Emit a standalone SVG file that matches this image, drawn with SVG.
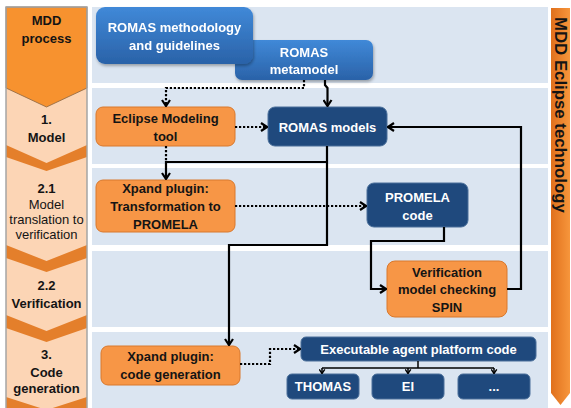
<svg xmlns="http://www.w3.org/2000/svg" width="571" height="408" viewBox="0 0 571 408">
<style>
.t{font-family:"Liberation Sans",Arial,sans-serif;font-size:13px;font-weight:bold;text-anchor:middle}
.w{fill:#ffffff}
.k{fill:#141414}
.r{font-weight:normal}
.panel{fill:#dbe5f1}
.or{fill:#f79646;stroke:#d9782c;stroke-width:1}
.db{fill:#1f497d;stroke:#4a6f9a;stroke-width:1}
.band{fill:#e47f2b}
.sol{fill:none;stroke:#000;stroke-width:2.2}
.dot{fill:none;stroke:#000;stroke-width:2.2;stroke-dasharray:2.2 1.8}
.thin{fill:none;stroke:#000;stroke-width:1.5}
</style>
<defs>
<linearGradient id="gb" x1="0" y1="0" x2="0" y2="1">
<stop offset="0" stop-color="#4089d8"/>
<stop offset="1" stop-color="#2a62a8"/>
</linearGradient>
<linearGradient id="go" x1="0" y1="0" x2="1" y2="0">
<stop offset="0" stop-color="#e0701c"/>
<stop offset="1" stop-color="#f7963c"/>
</linearGradient>
<filter id="sh" x="-10%" y="-10%" width="130%" height="140%">
<feDropShadow dx="1" dy="2" stdDeviation="1.5" flood-color="#000" flood-opacity="0.3"/>
</filter>
<marker id="ah" viewBox="0 0 10 10" refX="9" refY="5" markerWidth="10" markerHeight="10" markerUnits="userSpaceOnUse" orient="auto">
<path d="M3,1 L9,5 L3,9" fill="none" stroke="#000" stroke-width="2.2"/>
</marker>
<marker id="as" viewBox="0 0 10 10" refX="9" refY="5" markerWidth="7" markerHeight="7" markerUnits="userSpaceOnUse" orient="auto">
<path d="M3,1 L9,5 L3,9" fill="none" stroke="#000" stroke-width="2"/>
</marker>
</defs>

<rect width="571" height="408" fill="#ffffff"/>

<g id="panels">
<rect class="panel" x="92" y="7" width="456" height="76"/>
<rect class="panel" x="92" y="88" width="456" height="76"/>
<rect class="panel" x="92" y="168" width="456" height="77"/>
<rect class="panel" x="92" y="251" width="456" height="76"/>
<rect class="panel" x="92" y="332" width="456" height="76"/>
</g>

<g id="process-column">
<rect x="6" y="7" width="81" height="402" fill="#fcd5b5"/>
<polygon points="6,7 87,7 87,88 46.5,107 6,88" fill="#f7922f" stroke="#8a6440" stroke-width="0.8"/>
<polygon class="band" points="6,145 46.5,163 87,145 87,157 46.5,171 6,157"/>
<polygon class="band" points="6,245 46.5,261 87,245 87,258 46.5,272 6,258"/>
<polygon class="band" points="6,315 46.5,331 87,315 87,328 46.5,342 6,328"/>
<polygon class="band" points="6,397 46.5,410 87,397 87,410 6,410"/>
<rect x="6" y="7" width="81" height="405" fill="none" stroke="#a5a5a5" stroke-width="1.5"/>
<text class="t k" x="46.5" y="24.5">MDD</text>
<text class="t k" x="46.5" y="42.5">process</text>
<text class="t k" x="46.5" y="123.5">1.</text>
<text class="t k" x="46.5" y="141.5">Model</text>
<text class="t k" x="46.5" y="192.5">2.1</text>
<text class="t k r" x="46.5" y="208.5">Model</text>
<text class="t k r" x="46.5" y="223.5">translation to</text>
<text class="t k r" x="46.5" y="238.5">verification</text>
<text class="t k" x="46.5" y="289.5">2.2</text>
<text class="t k" x="46.5" y="307.5">Verification</text>
<text class="t k" x="46.5" y="358.5">3.</text>
<text class="t k" x="46.5" y="376.5">Code</text>
<text class="t k" x="46.5" y="392.5">generation</text>
</g>

<g id="tech-bar">
<polygon points="551,8 570,8 570,393 560.5,405 551,393" fill="url(#go)"/>
<text class="t k" style="font-size:16.8px;text-anchor:start" transform="translate(555,17) rotate(90)">MDD Eclipse technology</text>
</g>

<g id="romas-metamodel" filter="url(#sh)">
<rect x="235" y="40" width="138" height="40" rx="7" fill="url(#gb)"/>
<text class="t w" x="304" y="56.5">ROMAS</text>
<text class="t w" x="304" y="73.5">metamodel</text>
</g>

<g id="romas-methodology" filter="url(#sh)">
<rect x="96" y="7" width="157" height="57" rx="9" fill="url(#gb)"/>
<text class="t w" x="174.5" y="31.5">ROMAS methodology</text>
<text class="t w" x="174.5" y="49.5">and guidelines</text>
</g>

<g id="eclipse-tool">
<rect class="or" x="96" y="107" width="139" height="39" rx="7"/>
<text class="t k" x="165.5" y="122.5">Eclipse Modeling</text>
<text class="t k" x="165.5" y="141">tool</text>
</g>

<g id="romas-models">
<rect class="db" x="268" y="107" width="119" height="39" rx="7"/>
<text class="t w" x="327.5" y="131.5">ROMAS models</text>
</g>

<g id="xpand-promela">
<rect class="or" x="96" y="180" width="139" height="52" rx="7"/>
<text class="t k" x="165.5" y="192.5">Xpand plugin:</text>
<text class="t k" x="165.5" y="210.5">Transformation to</text>
<text class="t k" x="165.5" y="228.5">PROMELA</text>
</g>

<g id="promela-code">
<rect class="db" x="367" y="183" width="101" height="44" rx="7"/>
<text class="t w" x="417.5" y="201.5">PROMELA</text>
<text class="t w" x="417.5" y="219.5">code</text>
</g>

<g id="verification-spin">
<rect class="or" x="387" y="261" width="120" height="56" rx="8"/>
<text class="t k" x="447" y="276.5">Verification</text>
<text class="t k" x="447" y="294">model checking</text>
<text class="t k" x="447" y="312">SPIN</text>
</g>

<g id="xpand-codegen">
<rect class="or" x="101" y="346" width="139" height="39" rx="7"/>
<text class="t k" x="170.5" y="360.5">Xpand plugin:</text>
<text class="t k" x="170.5" y="378.5">code generation</text>
</g>

<g id="executable-code">
<rect class="db" x="301" y="337" width="235" height="24" rx="5"/>
<text class="t w" x="418.5" y="353.5">Executable agent platform code</text>
</g>

<g id="thomas">
<rect class="db" x="287" y="374" width="72" height="25" rx="5"/>
<text class="t w" x="323" y="391">THOMAS</text>
</g>
<g id="ei">
<rect class="db" x="372" y="374" width="72" height="25" rx="5"/>
<text class="t w" x="408" y="391">EI</text>
</g>
<g id="more">
<rect class="db" x="458" y="374" width="72" height="25" rx="5"/>
<text class="t w" x="494" y="391">...</text>
</g>

<g id="connectors">
<path class="dot" d="M304 80 V88 H166 V106" marker-end="url(#ah)"/>
<path class="sol" d="M325 80 V85 L327.5 88 V106" marker-end="url(#ah)"/>
<path class="dot" d="M235 127 H267" marker-end="url(#ah)"/>
<path class="dot" d="M166 146 V162"/>
<path class="sol" d="M327 162 H166 V179" marker-end="url(#ah)"/>
<path class="sol" d="M327 146 V245 H229 V345" marker-end="url(#ah)"/>
<path class="dot" d="M235 206 H366" marker-end="url(#ah)"/>
<path class="sol" d="M444 227 V241 H371 V289 H386" marker-end="url(#ah)"/>
<path class="sol" d="M507 289 H521 V127 H388" marker-end="url(#ah)"/>
<path class="dot" d="M240 364 H270 V349 H300" marker-end="url(#ah)"/>
<path class="thin" d="M418 361 V368"/>
<path class="thin" d="M322 368 H494"/>
<path class="thin" d="M322 368 V373.5" marker-end="url(#as)"/>
<path class="thin" d="M408 368 V373.5" marker-end="url(#as)"/>
<path class="thin" d="M494 368 V373.5" marker-end="url(#as)"/>
</g>
</svg>
